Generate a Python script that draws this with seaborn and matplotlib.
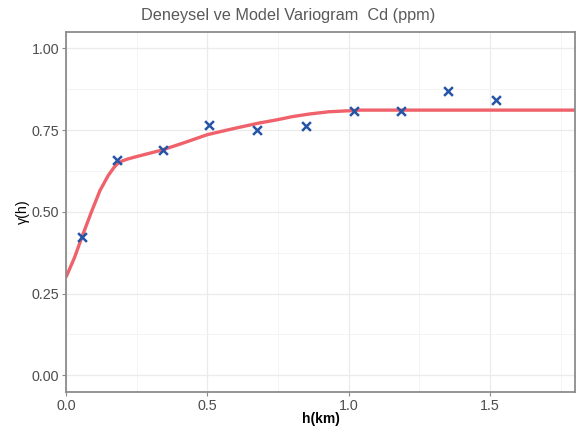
import matplotlib
matplotlib.use("Agg")
import matplotlib.pyplot as plt
from matplotlib.ticker import MultipleLocator
import seaborn as sns
import pandas as pd

lag_km = [0.055, 0.181, 0.342, 0.506, 0.675, 0.849, 1.019, 1.183, 1.351, 1.522]
gamma_exp = [0.423, 0.658, 0.689, 0.765, 0.750, 0.762, 0.808, 0.808, 0.869, 0.841]

# fitted model curve
model_h = [0.0, 0.03, 0.055, 0.09, 0.12, 0.15, 0.17, 0.182, 0.2, 0.22, 0.25, 0.34, 0.42,
           0.5, 0.6, 0.68, 0.75, 0.8, 0.86, 0.93, 1.0, 1.04, 1.8]
model_gamma = [0.30, 0.36, 0.42, 0.50, 0.565, 0.612, 0.636, 0.647, 0.656, 0.662, 0.669, 0.689, 0.712,
               0.736, 0.756, 0.771, 0.782, 0.791, 0.799, 0.806, 0.809, 0.811, 0.811]

x_ticks = [0.0, 0.5, 1.0, 1.5]
y_ticks = [0.00, 0.25, 0.50, 0.75, 1.00]

exp_df = pd.DataFrame({"h": lag_km, "gamma": gamma_exp})
mod_df = pd.DataFrame({"h": model_h, "gamma": model_gamma})

sns.set_theme(style="whitegrid")
plt.rcParams["font.family"] = ["Liberation Sans", "DejaVu Sans"]

fig = plt.figure(figsize=(5.77, 4.26), dpi=100)
ax = fig.add_axes([0.1144, 0.0805, 0.8821, 0.8445])

sns.lineplot(data=mod_df, x="h", y="gamma", ax=ax, color="#F0626B",
             linewidth=2.4, solid_capstyle="butt", solid_joinstyle="round", zorder=2)
sns.scatterplot(data=exp_df, x="h", y="gamma", ax=ax, marker="x",
                color="#2455A6", s=40, linewidth=1.8, zorder=3)

ax.set_xlim(0, 1.8)
ax.set_ylim(-0.05, 1.05)
ax.set_xticks(x_ticks)
ax.set_xticklabels([f"{t:.1f}" for t in x_ticks])
ax.set_yticks(y_ticks)
ax.set_yticklabels([f"{t:.2f}" for t in y_ticks])
ax.xaxis.set_minor_locator(MultipleLocator(0.25))
ax.yaxis.set_minor_locator(MultipleLocator(0.125))

ax.grid(which="major", color="#EBEBEB", linewidth=0.9)
ax.grid(which="minor", color="#F2F2F2", linewidth=0.6)
ax.set_axisbelow(True)

for s in ax.spines.values():
    s.set_color("#8C8C8C")
    s.set_linewidth(1.3)

ax.tick_params(which="major", axis="both", length=3, width=0.8, color="#8C8C8C",
               labelsize=10.3, labelcolor="#4D4D4D", pad=2,
               bottom=True, left=True)
ax.tick_params(which="minor", length=0)

ax.set_xlabel("h(km)", fontsize=10, fontweight="bold", color="black")
ax.xaxis.set_label_coords(0.5, -0.056)
ax.set_ylabel("γ(h)", fontsize=10.3, color="black", labelpad=1)
fig.suptitle("Deneysel ve Model Variogram  Cd (ppm)", x=0.5, y=0.982,
             fontsize=11.7, color="#595959")

fig.savefig("out.png", dpi=100)
